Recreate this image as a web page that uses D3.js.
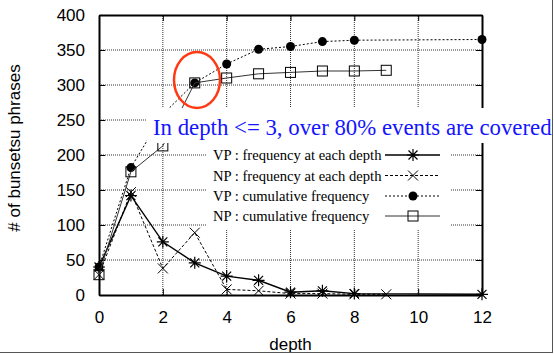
<!DOCTYPE html>
<html>
<head>
<meta charset="utf-8">
<script src="https://cdn.jsdelivr.net/npm/d3@7"></script>
<style>
  body { margin: 0; background: #fff; }
</style>
</head>
<body>
<script>
// values
const vpDepth = [0, 1, 2, 3, 4, 5, 6, 7, 8, 12];
const vpFreq = [40, 142, 76, 46, 27, 21, 4, 6, 2, 1];
const vpCum = [40, 182, 258, 303, 330, 351, 355, 362, 364, 365];
const npDepth = [0, 1, 2, 3, 4, 5, 6, 7, 8, 9];
const npFreq = [29, 147, 38, 89, 8, 6, 2, 2, 1, 1];
const npCum = [29, 176, 213, 303, 310, 316, 318, 320, 320, 321];
const xTicks = [0, 2, 4, 6, 8, 10, 12];
const yTicks = [0, 50, 100, 150, 200, 250, 300, 350, 400];
const legendLabels = [
  "VP : frequency at each depth",
  "NP : frequency at each depth",
  "VP : cumulative frequency",
  "NP : cumulative frequency"
];
const note = "In depth <= 3, over 80% events are covered";

const width = 554;
const height = 354;
const margin = { top: 15, right: 72, bottom: 59, left: 99 };

const svg = d3.select("body").append("svg")
  .attr("width", width)
  .attr("height", height);

const x = d3.scaleLinear().domain([0, 12]).range([margin.left, width - margin.right]);
const y = d3.scaleLinear().domain([0, 400]).range([height - margin.bottom, margin.top]);

const sans = "'Liberation Sans', Arial, Helvetica, sans-serif";
const serif = "'Liberation Serif', 'Times New Roman', serif";

// grid
svg.append("g")
  .selectAll("line.gy")
  .data(yTicks.slice(1, -1))
  .enter()
  .append("line")
  .attr("x1", x(0)).attr("x2", x(12))
  .attr("y1", (d) => y(d)).attr("y2", (d) => y(d))
  .attr("stroke", "#333").attr("stroke-width", 1)
  .attr("stroke-dasharray", "1,1");

svg.append("g")
  .selectAll("line.gx")
  .data(xTicks.slice(1, -1))
  .enter()
  .append("line")
  .attr("y1", y(0)).attr("y2", y(400))
  .attr("x1", (d) => x(d)).attr("x2", (d) => x(d))
  .attr("stroke", "#333").attr("stroke-width", 1)
  .attr("stroke-dasharray", "1,1");

// axes with inward ticks, mirrored
const axisBottom = d3.axisBottom(x).tickValues(xTicks).tickSizeInner(-6).tickSizeOuter(0).tickPadding(16);
const axisLeft = d3.axisLeft(y).tickValues(yTicks).tickSizeInner(-6).tickSizeOuter(0).tickPadding(14);

const gx = svg.append("g").attr("transform", `translate(0,${y(0)})`).call(axisBottom);
const gy = svg.append("g").attr("transform", `translate(${x(0)},0)`).call(axisLeft);
svg.append("g").attr("transform", `translate(0,${y(400)})`)
  .call(d3.axisTop(x).tickValues(xTicks).tickSizeInner(-6).tickSizeOuter(0).tickFormat(""));
svg.append("g").attr("transform", `translate(${x(12)},0)`)
  .call(d3.axisRight(y).tickValues(yTicks).tickSizeInner(-6).tickSizeOuter(0).tickFormat(""));

svg.selectAll(".domain").attr("stroke", "#000").attr("stroke-width", 2);
svg.selectAll(".tick line").attr("stroke", "#000");
gx.selectAll("text").attr("font-family", sans).attr("font-size", "17px").attr("fill", "#000");
gy.selectAll("text").attr("font-family", sans).attr("font-size", "17px").attr("fill", "#000");

// axis titles
svg.append("text")
  .attr("x", x(6)).attr("y", 350)
  .attr("text-anchor", "middle")
  .attr("font-family", sans).attr("font-size", "17px")
  .text("depth");

svg.append("text")
  .attr("transform", "translate(20,148) rotate(-90)")
  .attr("text-anchor", "middle")
  .attr("font-family", sans).attr("font-size", "17px")
  .text("# of bunsetsu phrases");

// markers
const star = (g, cx, cy, r) => {
  g.append("path")
    .attr("d", `M${cx - r},${cy}H${cx + r}M${cx},${cy - r}V${cy + r}` +
      `M${cx - r * 0.75},${cy - r * 0.75}L${cx + r * 0.75},${cy + r * 0.75}` +
      `M${cx - r * 0.75},${cy + r * 0.75}L${cx + r * 0.75},${cy - r * 0.75}`)
    .attr("stroke", "#000").attr("stroke-width", 1.2).attr("fill", "none");
};
const cross = (g, cx, cy, r) => {
  g.append("path")
    .attr("d", `M${cx - r},${cy - r}L${cx + r},${cy + r}M${cx - r},${cy + r}L${cx + r},${cy - r}`)
    .attr("stroke", "#000").attr("stroke-width", 1).attr("fill", "none");
};
const dot = (g, cx, cy) => {
  g.append("circle").attr("cx", cx).attr("cy", cy).attr("r", 4.5).attr("fill", "#000");
};
const box = (g, cx, cy) => {
  g.append("rect").attr("x", cx - 5).attr("y", cy - 5).attr("width", 10).attr("height", 10)
    .attr("fill", "none").attr("stroke", "#000").attr("stroke-width", 1);
};

const series = [
  { xs: vpDepth, ys: vpFreq, dash: null, width: 1.4, color: "#000", mark: (g, a, b) => star(g, a, b, 6) },
  { xs: npDepth, ys: npFreq, dash: "3,2", width: 1, color: "#000", mark: (g, a, b) => cross(g, a, b, 5) },
  { xs: vpDepth, ys: vpCum, dash: "2,2", width: 1, color: "#000", mark: dot },
  { xs: npDepth, ys: npCum, dash: null, width: 1, color: "#333", mark: box }
];

const line = d3.line().x((d) => x(d[0])).y((d) => y(d[1]));

series.forEach((s) => {
  const pts = s.xs.map((d, i) => [d, s.ys[i]]);
  svg.append("path")
    .attr("d", line(pts))
    .attr("fill", "none")
    .attr("stroke", s.color)
    .attr("stroke-width", s.width)
    .attr("stroke-dasharray", s.dash);
  const g = svg.append("g");
  pts.forEach((p) => s.mark(g, x(p[0]), y(p[1])));
});

// note box (opaque, covers grid)
svg.append("rect")
  .attr("x", 147).attr("y", 108).attr("width", 406).attr("height", 35)
  .attr("fill", "#fff");
svg.append("text")
  .attr("x", 153).attr("y", 135)
  .attr("font-family", serif).attr("font-size", "22.8px")
  .attr("fill", "#1414ff")
  .text(note);

// legend (opaque)
svg.append("rect")
  .attr("x", 206).attr("y", 143).attr("width", 244).attr("height", 86)
  .attr("fill", "#fff");
const legendY = [155, 175.5, 196, 216];
legendLabels.forEach((label, i) => {
  const ly = legendY[i];
  svg.append("text")
    .attr("x", 213).attr("y", ly + 5)
    .attr("font-family", serif).attr("font-size", "14.6px")
    .text(label);
  const s = series[i];
  svg.append("line")
    .attr("x1", 385).attr("x2", 440).attr("y1", ly).attr("y2", ly)
    .attr("stroke", s.color).attr("stroke-width", s.width)
    .attr("stroke-dasharray", s.dash);
  s.mark(svg, 413, ly);
});

// red highlight
svg.append("ellipse")
  .attr("cx", 197).attr("cy", 80).attr("rx", 23).attr("ry", 28)
  .attr("fill", "none").attr("stroke", "#ff3a12").attr("stroke-width", 2.5);

// frame lines of the slide crop
svg.append("line").attr("x1", 552.5).attr("x2", 552.5).attr("y1", 0).attr("y2", 353)
  .attr("stroke", "#555").attr("stroke-width", 1);
svg.append("line").attr("x1", 0).attr("x2", 553).attr("y1", 352.5).attr("y2", 352.5)
  .attr("stroke", "#555").attr("stroke-width", 1);
</script>
</body>
</html>
